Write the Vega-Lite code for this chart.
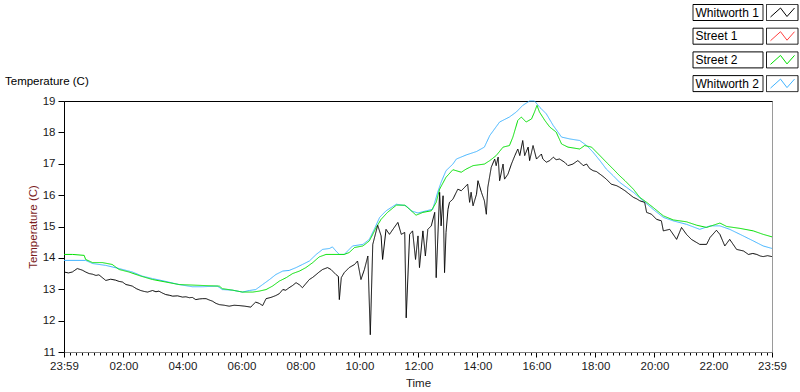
{
"$schema": "https://vega.github.io/schema/vega-lite/v6.json",
"width": 708,
"height": 251,
"autosize": {"type": "none"},
"padding": {"left": 64, "top": 101, "right": 28, "bottom": 40},
"background": "#ffffff",
"config": {"view": {"stroke": "#9a9a9a", "strokeWidth": 1}, "font": "Liberation Sans"},
"title": {"text": "Temperature (C)", "anchor": "start", "frame": "group", "orient": "top", "offset": -81, "dx": -59, "font": "Liberation Sans", "fontSize": 11.5, "fontWeight": "normal", "color": "#000000"},
"data": {"values": [
{"s":"Whitworth 2","t":-1,"v":13.92},{"s":"Whitworth 2","t":43,"v":13.92},{"s":"Whitworth 2","t":57,"v":13.82},{"s":"Whitworth 2","t":84,"v":13.76},{"s":"Whitworth 2","t":111,"v":13.66},{"s":"Whitworth 2","t":138,"v":13.55},{"s":"Whitworth 2","t":158,"v":13.42},{"s":"Whitworth 2","t":179,"v":13.34},{"s":"Whitworth 2","t":203,"v":13.26},{"s":"Whitworth 2","t":233,"v":13.15},{"s":"Whitworth 2","t":260,"v":13.08},{"s":"Whitworth 2","t":280,"v":13.08},{"s":"Whitworth 2","t":311,"v":13.10},{"s":"Whitworth 2","t":321,"v":12.99},{"s":"Whitworth 2","t":342,"v":12.97},{"s":"Whitworth 2","t":362,"v":12.91},{"s":"Whitworth 2","t":376,"v":12.96},{"s":"Whitworth 2","t":389,"v":12.99},{"s":"Whitworth 2","t":403,"v":13.15},{"s":"Whitworth 2","t":417,"v":13.31},{"s":"Whitworth 2","t":430,"v":13.47},{"s":"Whitworth 2","t":444,"v":13.58},{"s":"Whitworth 2","t":457,"v":13.60},{"s":"Whitworth 2","t":471,"v":13.69},{"s":"Whitworth 2","t":484,"v":13.79},{"s":"Whitworth 2","t":498,"v":13.90},{"s":"Whitworth 2","t":512,"v":14.11},{"s":"Whitworth 2","t":525,"v":14.27},{"s":"Whitworth 2","t":539,"v":14.30},{"s":"Whitworth 2","t":545,"v":14.35},{"s":"Whitworth 2","t":552,"v":14.22},{"s":"Whitworth 2","t":559,"v":14.11},{"s":"Whitworth 2","t":569,"v":14.11},{"s":"Whitworth 2","t":586,"v":14.38},{"s":"Whitworth 2","t":607,"v":14.43},{"s":"Whitworth 2","t":620,"v":14.59},{"s":"Whitworth 2","t":630,"v":14.91},{"s":"Whitworth 2","t":641,"v":15.29},{"s":"Whitworth 2","t":654,"v":15.50},{"s":"Whitworth 2","t":675,"v":15.71},{"s":"Whitworth 2","t":695,"v":15.66},{"s":"Whitworth 2","t":705,"v":15.50},{"s":"Whitworth 2","t":719,"v":15.43},{"s":"Whitworth 2","t":736,"v":15.50},{"s":"Whitworth 2","t":749,"v":15.55},{"s":"Whitworth 2","t":759,"v":16.09},{"s":"Whitworth 2","t":766,"v":16.41},{"s":"Whitworth 2","t":776,"v":16.78},{"s":"Whitworth 2","t":790,"v":16.99},{"s":"Whitworth 2","t":797,"v":17.15},{"s":"Whitworth 2","t":817,"v":17.28},{"s":"Whitworth 2","t":838,"v":17.39},{"s":"Whitworth 2","t":854,"v":17.53},{"s":"Whitworth 2","t":865,"v":17.90},{"s":"Whitworth 2","t":885,"v":18.33},{"s":"Whitworth 2","t":905,"v":18.49},{"s":"Whitworth 2","t":919,"v":18.65},{"s":"Whitworth 2","t":932,"v":18.86},{"s":"Whitworth 2","t":946,"v":19.0},{"s":"Whitworth 2","t":956,"v":19.0},{"s":"Whitworth 2","t":966,"v":18.81},{"s":"Whitworth 2","t":980,"v":18.59},{"s":"Whitworth 2","t":994,"v":18.22},{"s":"Whitworth 2","t":1011,"v":17.85},{"s":"Whitworth 2","t":1028,"v":17.79},{"s":"Whitworth 2","t":1048,"v":17.74},{"s":"Whitworth 2","t":1062,"v":17.58},{"s":"Whitworth 2","t":1075,"v":17.37},{"s":"Whitworth 2","t":1089,"v":17.10},{"s":"Whitworth 2","t":1102,"v":16.83},{"s":"Whitworth 2","t":1116,"v":16.62},{"s":"Whitworth 2","t":1129,"v":16.41},{"s":"Whitworth 2","t":1143,"v":16.25},{"s":"Whitworth 2","t":1157,"v":16.09},{"s":"Whitworth 2","t":1177,"v":15.82},{"s":"Whitworth 2","t":1197,"v":15.55},{"s":"Whitworth 2","t":1218,"v":15.29},{"s":"Whitworth 2","t":1238,"v":15.18},{"s":"Whitworth 2","t":1265,"v":15.07},{"s":"Whitworth 2","t":1292,"v":14.91},{"s":"Whitworth 2","t":1313,"v":15.02},{"s":"Whitworth 2","t":1333,"v":15.02},{"s":"Whitworth 2","t":1353,"v":14.91},{"s":"Whitworth 2","t":1374,"v":14.75},{"s":"Whitworth 2","t":1401,"v":14.54},{"s":"Whitworth 2","t":1421,"v":14.38},{"s":"Whitworth 2","t":1439,"v":14.30},
{"s":"Street 2","t":-1,"v":14.11},{"s":"Street 2","t":16,"v":14.11},{"s":"Street 2","t":40,"v":14.08},{"s":"Street 2","t":43,"v":13.95},{"s":"Street 2","t":57,"v":13.85},{"s":"Street 2","t":77,"v":13.85},{"s":"Street 2","t":97,"v":13.79},{"s":"Street 2","t":111,"v":13.63},{"s":"Street 2","t":131,"v":13.55},{"s":"Street 2","t":155,"v":13.42},{"s":"Street 2","t":179,"v":13.31},{"s":"Street 2","t":206,"v":13.23},{"s":"Street 2","t":233,"v":13.15},{"s":"Street 2","t":281,"v":13.12},{"s":"Street 2","t":315,"v":13.10},{"s":"Street 2","t":321,"v":13.02},{"s":"Street 2","t":342,"v":12.97},{"s":"Street 2","t":362,"v":12.91},{"s":"Street 2","t":383,"v":12.91},{"s":"Street 2","t":396,"v":12.94},{"s":"Street 2","t":410,"v":12.99},{"s":"Street 2","t":423,"v":13.10},{"s":"Street 2","t":437,"v":13.26},{"s":"Street 2","t":451,"v":13.37},{"s":"Street 2","t":464,"v":13.50},{"s":"Street 2","t":478,"v":13.58},{"s":"Street 2","t":491,"v":13.69},{"s":"Street 2","t":505,"v":13.85},{"s":"Street 2","t":518,"v":14.03},{"s":"Street 2","t":532,"v":14.11},{"s":"Street 2","t":569,"v":14.11},{"s":"Street 2","t":579,"v":14.17},{"s":"Street 2","t":590,"v":14.33},{"s":"Street 2","t":607,"v":14.38},{"s":"Street 2","t":620,"v":14.54},{"s":"Street 2","t":627,"v":14.75},{"s":"Street 2","t":634,"v":14.97},{"s":"Street 2","t":644,"v":15.23},{"s":"Street 2","t":657,"v":15.45},{"s":"Street 2","t":675,"v":15.68},{"s":"Street 2","t":692,"v":15.68},{"s":"Street 2","t":702,"v":15.55},{"s":"Street 2","t":715,"v":15.36},{"s":"Street 2","t":729,"v":15.45},{"s":"Street 2","t":746,"v":15.50},{"s":"Street 2","t":756,"v":15.77},{"s":"Street 2","t":763,"v":16.19},{"s":"Street 2","t":776,"v":16.57},{"s":"Street 2","t":790,"v":16.81},{"s":"Street 2","t":807,"v":16.73},{"s":"Street 2","t":817,"v":16.83},{"s":"Street 2","t":831,"v":16.94},{"s":"Street 2","t":854,"v":16.99},{"s":"Street 2","t":865,"v":17.10},{"s":"Street 2","t":878,"v":17.26},{"s":"Street 2","t":892,"v":17.53},{"s":"Street 2","t":905,"v":17.58},{"s":"Street 2","t":912,"v":17.85},{"s":"Street 2","t":922,"v":18.38},{"s":"Street 2","t":929,"v":18.49},{"s":"Street 2","t":939,"v":18.33},{"s":"Street 2","t":950,"v":18.43},{"s":"Street 2","t":956,"v":18.65},{"s":"Street 2","t":961,"v":18.86},{"s":"Street 2","t":966,"v":18.65},{"s":"Street 2","t":977,"v":18.38},{"s":"Street 2","t":987,"v":18.17},{"s":"Street 2","t":1000,"v":18.01},{"s":"Street 2","t":1011,"v":17.63},{"s":"Street 2","t":1024,"v":17.53},{"s":"Street 2","t":1048,"v":17.47},{"s":"Street 2","t":1058,"v":17.58},{"s":"Street 2","t":1072,"v":17.53},{"s":"Street 2","t":1089,"v":17.26},{"s":"Street 2","t":1102,"v":17.05},{"s":"Street 2","t":1116,"v":16.83},{"s":"Street 2","t":1129,"v":16.62},{"s":"Street 2","t":1140,"v":16.46},{"s":"Street 2","t":1157,"v":16.19},{"s":"Street 2","t":1170,"v":15.93},{"s":"Street 2","t":1184,"v":15.77},{"s":"Street 2","t":1197,"v":15.61},{"s":"Street 2","t":1218,"v":15.34},{"s":"Street 2","t":1238,"v":15.21},{"s":"Street 2","t":1265,"v":15.15},{"s":"Street 2","t":1286,"v":15.04},{"s":"Street 2","t":1306,"v":14.97},{"s":"Street 2","t":1333,"v":15.11},{"s":"Street 2","t":1347,"v":15.00},{"s":"Street 2","t":1374,"v":14.94},{"s":"Street 2","t":1401,"v":14.86},{"s":"Street 2","t":1421,"v":14.75},{"s":"Street 2","t":1439,"v":14.67},
{"s":"Whitworth 1","t":-1,"v":13.55},{"s":"Whitworth 1","t":8,"v":13.52},{"s":"Whitworth 1","t":16,"v":13.55},{"s":"Whitworth 1","t":26,"v":13.66},{"s":"Whitworth 1","t":36,"v":13.61},{"s":"Whitworth 1","t":43,"v":13.55},{"s":"Whitworth 1","t":50,"v":13.50},{"s":"Whitworth 1","t":57,"v":13.48},{"s":"Whitworth 1","t":64,"v":13.44},{"s":"Whitworth 1","t":70,"v":13.46},{"s":"Whitworth 1","t":77,"v":13.37},{"s":"Whitworth 1","t":84,"v":13.28},{"s":"Whitworth 1","t":94,"v":13.32},{"s":"Whitworth 1","t":104,"v":13.29},{"s":"Whitworth 1","t":111,"v":13.25},{"s":"Whitworth 1","t":118,"v":13.23},{"s":"Whitworth 1","t":125,"v":13.15},{"s":"Whitworth 1","t":131,"v":13.13},{"s":"Whitworth 1","t":138,"v":13.10},{"s":"Whitworth 1","t":146,"v":13.02},{"s":"Whitworth 1","t":155,"v":12.96},{"s":"Whitworth 1","t":162,"v":12.93},{"s":"Whitworth 1","t":169,"v":12.91},{"s":"Whitworth 1","t":179,"v":12.96},{"s":"Whitworth 1","t":186,"v":12.92},{"s":"Whitworth 1","t":192,"v":12.94},{"s":"Whitworth 1","t":199,"v":12.88},{"s":"Whitworth 1","t":206,"v":12.83},{"s":"Whitworth 1","t":213,"v":12.81},{"s":"Whitworth 1","t":220,"v":12.78},{"s":"Whitworth 1","t":230,"v":12.79},{"s":"Whitworth 1","t":240,"v":12.75},{"s":"Whitworth 1","t":247,"v":12.76},{"s":"Whitworth 1","t":254,"v":12.73},{"s":"Whitworth 1","t":260,"v":12.74},{"s":"Whitworth 1","t":267,"v":12.67},{"s":"Whitworth 1","t":274,"v":12.69},{"s":"Whitworth 1","t":281,"v":12.70},{"s":"Whitworth 1","t":288,"v":12.70},{"s":"Whitworth 1","t":294,"v":12.66},{"s":"Whitworth 1","t":301,"v":12.62},{"s":"Whitworth 1","t":308,"v":12.55},{"s":"Whitworth 1","t":315,"v":12.51},{"s":"Whitworth 1","t":325,"v":12.49},{"s":"Whitworth 1","t":335,"v":12.46},{"s":"Whitworth 1","t":345,"v":12.49},{"s":"Whitworth 1","t":355,"v":12.48},{"s":"Whitworth 1","t":367,"v":12.46},{"s":"Whitworth 1","t":379,"v":12.43},{"s":"Whitworth 1","t":384,"v":12.52},{"s":"Whitworth 1","t":389,"v":12.59},{"s":"Whitworth 1","t":396,"v":12.55},{"s":"Whitworth 1","t":403,"v":12.48},{"s":"Whitworth 1","t":410,"v":12.70},{"s":"Whitworth 1","t":420,"v":12.74},{"s":"Whitworth 1","t":430,"v":12.80},{"s":"Whitworth 1","t":437,"v":12.86},{"s":"Whitworth 1","t":444,"v":12.99},{"s":"Whitworth 1","t":450,"v":12.97},{"s":"Whitworth 1","t":457,"v":13.05},{"s":"Whitworth 1","t":464,"v":13.12},{"s":"Whitworth 1","t":471,"v":13.21},{"s":"Whitworth 1","t":478,"v":13.14},{"s":"Whitworth 1","t":484,"v":13.05},{"s":"Whitworth 1","t":491,"v":13.18},{"s":"Whitworth 1","t":498,"v":13.31},{"s":"Whitworth 1","t":505,"v":13.38},{"s":"Whitworth 1","t":512,"v":13.47},{"s":"Whitworth 1","t":518,"v":13.55},{"s":"Whitworth 1","t":525,"v":13.63},{"s":"Whitworth 1","t":535,"v":13.69},{"s":"Whitworth 1","t":542,"v":13.63},{"s":"Whitworth 1","t":552,"v":13.47},{"s":"Whitworth 1","t":557,"v":13.41},{"s":"Whitworth 1","t":559,"v":12.67},{"s":"Whitworth 1","t":563,"v":13.37},{"s":"Whitworth 1","t":569,"v":13.53},{"s":"Whitworth 1","t":579,"v":13.69},{"s":"Whitworth 1","t":590,"v":13.79},{"s":"Whitworth 1","t":596,"v":13.90},{"s":"Whitworth 1","t":603,"v":13.31},{"s":"Whitworth 1","t":610,"v":13.63},{"s":"Whitworth 1","t":617,"v":14.06},{"s":"Whitworth 1","t":622,"v":11.55},{"s":"Whitworth 1","t":627,"v":14.43},{"s":"Whitworth 1","t":637,"v":15.04},{"s":"Whitworth 1","t":644,"v":14.70},{"s":"Whitworth 1","t":647,"v":13.95},{"s":"Whitworth 1","t":654,"v":14.91},{"s":"Whitworth 1","t":661,"v":14.75},{"s":"Whitworth 1","t":668,"v":14.91},{"s":"Whitworth 1","t":678,"v":15.13},{"s":"Whitworth 1","t":685,"v":14.75},{"s":"Whitworth 1","t":692,"v":14.81},{"s":"Whitworth 1","t":695,"v":12.09},{"s":"Whitworth 1","t":702,"v":14.75},{"s":"Whitworth 1","t":708,"v":14.86},{"s":"Whitworth 1","t":714,"v":13.95},{"s":"Whitworth 1","t":719,"v":14.70},{"s":"Whitworth 1","t":722,"v":13.69},{"s":"Whitworth 1","t":729,"v":14.86},{"s":"Whitworth 1","t":734,"v":14.06},{"s":"Whitworth 1","t":739,"v":14.91},{"s":"Whitworth 1","t":746,"v":15.02},{"s":"Whitworth 1","t":753,"v":15.45},{"s":"Whitworth 1","t":756,"v":13.37},{"s":"Whitworth 1","t":763,"v":16.09},{"s":"Whitworth 1","t":766,"v":15.02},{"s":"Whitworth 1","t":770,"v":15.98},{"s":"Whitworth 1","t":773,"v":13.53},{"s":"Whitworth 1","t":776,"v":14.81},{"s":"Whitworth 1","t":780,"v":15.55},{"s":"Whitworth 1","t":783,"v":15.77},{"s":"Whitworth 1","t":790,"v":15.87},{"s":"Whitworth 1","t":800,"v":16.19},{"s":"Whitworth 1","t":807,"v":16.14},{"s":"Whitworth 1","t":814,"v":16.25},{"s":"Whitworth 1","t":820,"v":16.35},{"s":"Whitworth 1","t":824,"v":15.77},{"s":"Whitworth 1","t":827,"v":16.09},{"s":"Whitworth 1","t":831,"v":15.66},{"s":"Whitworth 1","t":838,"v":16.03},{"s":"Whitworth 1","t":841,"v":16.46},{"s":"Whitworth 1","t":848,"v":16.09},{"s":"Whitworth 1","t":854,"v":15.82},{"s":"Whitworth 1","t":858,"v":15.39},{"s":"Whitworth 1","t":861,"v":16.25},{"s":"Whitworth 1","t":868,"v":16.89},{"s":"Whitworth 1","t":875,"v":17.15},{"s":"Whitworth 1","t":878,"v":16.94},{"s":"Whitworth 1","t":882,"v":17.21},{"s":"Whitworth 1","t":885,"v":16.46},{"s":"Whitworth 1","t":892,"v":16.99},{"s":"Whitworth 1","t":895,"v":16.51},{"s":"Whitworth 1","t":902,"v":16.67},{"s":"Whitworth 1","t":909,"v":16.99},{"s":"Whitworth 1","t":916,"v":17.26},{"s":"Whitworth 1","t":922,"v":17.47},{"s":"Whitworth 1","t":926,"v":17.26},{"s":"Whitworth 1","t":932,"v":17.74},{"s":"Whitworth 1","t":936,"v":17.26},{"s":"Whitworth 1","t":943,"v":17.53},{"s":"Whitworth 1","t":946,"v":17.10},{"s":"Whitworth 1","t":953,"v":17.58},{"s":"Whitworth 1","t":960,"v":17.15},{"s":"Whitworth 1","t":970,"v":17.31},{"s":"Whitworth 1","t":973,"v":17.15},{"s":"Whitworth 1","t":980,"v":17.05},{"s":"Whitworth 1","t":987,"v":17.10},{"s":"Whitworth 1","t":994,"v":17.21},{"s":"Whitworth 1","t":1000,"v":17.13},{"s":"Whitworth 1","t":1007,"v":17.15},{"s":"Whitworth 1","t":1017,"v":17.05},{"s":"Whitworth 1","t":1024,"v":16.94},{"s":"Whitworth 1","t":1034,"v":16.99},{"s":"Whitworth 1","t":1044,"v":17.10},{"s":"Whitworth 1","t":1050,"v":17.02},{"s":"Whitworth 1","t":1055,"v":16.94},{"s":"Whitworth 1","t":1062,"v":16.99},{"s":"Whitworth 1","t":1068,"v":16.85},{"s":"Whitworth 1","t":1075,"v":16.78},{"s":"Whitworth 1","t":1082,"v":16.75},{"s":"Whitworth 1","t":1089,"v":16.67},{"s":"Whitworth 1","t":1095,"v":16.60},{"s":"Whitworth 1","t":1102,"v":16.51},{"s":"Whitworth 1","t":1112,"v":16.35},{"s":"Whitworth 1","t":1123,"v":16.30},{"s":"Whitworth 1","t":1129,"v":16.25},{"s":"Whitworth 1","t":1140,"v":16.14},{"s":"Whitworth 1","t":1148,"v":16.04},{"s":"Whitworth 1","t":1157,"v":15.93},{"s":"Whitworth 1","t":1164,"v":15.88},{"s":"Whitworth 1","t":1170,"v":15.82},{"s":"Whitworth 1","t":1180,"v":15.77},{"s":"Whitworth 1","t":1184,"v":15.45},{"s":"Whitworth 1","t":1194,"v":15.39},{"s":"Whitworth 1","t":1204,"v":15.23},{"s":"Whitworth 1","t":1214,"v":15.18},{"s":"Whitworth 1","t":1218,"v":14.86},{"s":"Whitworth 1","t":1231,"v":14.91},{"s":"Whitworth 1","t":1245,"v":14.59},{"s":"Whitworth 1","t":1255,"v":14.97},{"s":"Whitworth 1","t":1265,"v":14.75},{"s":"Whitworth 1","t":1275,"v":14.59},{"s":"Whitworth 1","t":1292,"v":14.43},{"s":"Whitworth 1","t":1306,"v":14.43},{"s":"Whitworth 1","t":1313,"v":14.65},{"s":"Whitworth 1","t":1326,"v":14.88},{"s":"Whitworth 1","t":1333,"v":14.75},{"s":"Whitworth 1","t":1343,"v":14.38},{"s":"Whitworth 1","t":1353,"v":14.59},{"s":"Whitworth 1","t":1367,"v":14.27},{"s":"Whitworth 1","t":1381,"v":14.22},{"s":"Whitworth 1","t":1391,"v":14.11},{"s":"Whitworth 1","t":1400,"v":14.14},{"s":"Whitworth 1","t":1408,"v":14.11},{"s":"Whitworth 1","t":1415,"v":14.06},{"s":"Whitworth 1","t":1421,"v":14.04},{"s":"Whitworth 1","t":1430,"v":14.07},{"s":"Whitworth 1","t":1439,"v":14.04}
]},
"layer": [
{
"mark": {"type": "line", "strokeWidth": 1, "interpolate": "linear"},
"encoding": {
"x": {"field": "t", "type": "quantitative", "scale": {"domain": [-1, 1439], "nice": false, "zero": false},
 "axis": {"orient": "bottom", "grid": false, "title": "Time", "titleFont": "Liberation Sans", "titleFontSize": 11.5, "titleFontWeight": "normal", "titleColor": "#1a1a1a", "titlePadding": 6,
  "values": [-1,12,24,36,48,60,72,84,96,108,120,132,144,156,168,180,192,204,216,228,240,252,264,276,288,300,312,324,336,348,360,372,384,396,408,420,432,444,456,468,480,492,504,516,528,540,552,564,576,588,600,612,624,636,648,660,672,684,696,708,720,732,744,756,768,780,792,804,816,828,840,852,864,876,888,900,912,924,936,948,960,972,984,996,1008,1020,1032,1044,1056,1068,1080,1092,1104,1116,1128,1140,1152,1164,1176,1188,1200,1212,1224,1236,1248,1260,1272,1284,1296,1308,1320,1332,1344,1356,1368,1380,1392,1404,1416,1428,1439],
  "labelExpr": "(datum.value == -1 || datum.value == 1439 || datum.value % 120 == 0) ? utcFormat(datum.value * 60000, '%H:%M') : ''",
  "tickSize": {"condition": {"test": "datum.value == -1 || datum.value == 1439 || datum.value % 120 == 0", "value": 5}, "value": 3},
  "labelOverlap": false, "labelFlush": false, "labelFont": "Liberation Sans", "labelFontSize": 11.5, "labelColor": "#1a1a1a", "labelPadding": 3,
  "domainColor": "#808080", "tickColor": "#000000", "tickWidth": 1}},
"y": {"field": "v", "type": "quantitative", "scale": {"domain": [11, 19], "nice": false, "zero": false},
 "axis": {"values": [11,12,13,14,15,16,17,18,19], "grid": false, "tickSize": 6, "labelPadding": 3, "labelFont": "Liberation Sans", "labelFontSize": 11.5, "labelColor": "#1a1a1a", "domainColor": "#000000", "tickColor": "#000000", "title": "Temperature (C)", "titleFont": "Liberation Sans", "titleFontSize": 11.5, "titleFontWeight": "normal", "titleColor": "#7b1c1c", "titlePadding": 4}},
"color": {"field": "s", "type": "nominal",
 "scale": {"domain": ["Whitworth 1", "Street 1", "Street 2", "Whitworth 2"], "range": ["#000000", "#ff4040", "#00e000", "#40b4ff"]},
 "legend": {"title": null, "orient": "none", "legendX": 624, "legendY": -94.5, "direction": "vertical", "padding": 0, "rowPadding": 3.7,
  "symbolType": "M-1,-8M104,8M76.5,4.5L86.5,-4.5L93,4L100.5,-4.5", "symbolSize": 4, "symbolStrokeWidth": 1,
  "labelFont": "Liberation Sans", "labelFontSize": 12, "labelColor": "#000000", "labelOffset": -4.5,
  "encode": {"symbols": {"update": {"fill": {"value": "transparent"}}}}}},
"strokeDash": {"field": "s", "type": "nominal",
 "scale": {"domain": {"unionWith": ["Whitworth 1", "Street 1", "Street 2", "Whitworth 2"]}, "range": [[1, 0]]},
 "legend": {"title": null, "orient": "none", "legendX": 624, "legendY": -94.5, "direction": "vertical", "padding": 0, "rowPadding": 3.7,
  "symbolType": "M-1,-8H69V8H-1Z M72.5,-8H104V8H72.5Z", "symbolSize": 4, "symbolStrokeWidth": 1, "symbolStrokeColor": "#000000", "symbolFillColor": "transparent",
  "labelFont": "Liberation Sans", "labelFontSize": 12, "labelExpr": "''", "labelOffset": -4.5,
  "encode": {"symbols": {"update": {"stroke": {"value": "#000000"}, "fill": {"value": "transparent"}}}}}}
}
},
{
"mark": {"type": "rule", "opacity": 0},
"encoding": {
"x": {"field": "t", "type": "quantitative", "scale": {"domain": [-1, 1439], "nice": false, "zero": false},
 "axis": {"orient": "top", "labels": false, "ticks": false, "grid": false, "domainColor": "#000000", "title": null}}
}
}
],
"resolve": {"axis": {"x": "independent"}}
}
